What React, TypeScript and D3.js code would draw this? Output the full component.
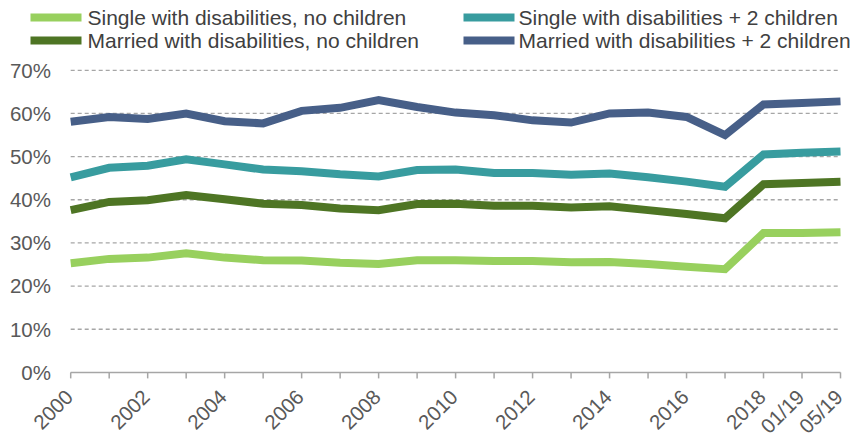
import React from "react";
import * as d3 from "d3";

// Periods along the x axis
const periods: string[] = [
  "2000", "2001", "2002", "2003", "2004", "2005", "2006", "2007", "2008", "2009",
  "2010", "2011", "2012", "2013", "2014", "2015", "2016", "2017", "2018", "01/19", "05/19",
];

// Periods that carry a visible label
const labelledPeriods: string[] = [
  "2000", "2002", "2004", "2006", "2008", "2010", "2012", "2014", "2016", "2018", "01/19", "05/19",
];

const yTicks: number[] = [0, 10, 20, 30, 40, 50, 60, 70];

// Series values (%)
const singleNoChildren: number[] = [
  25.3, 26.3, 26.6, 27.6, 26.6, 26.0, 25.9, 25.4, 25.1, 26.0,
  26.0, 25.8, 25.8, 25.5, 25.6, 25.1, 24.5, 23.9, 32.3, 32.3, 32.5,
];
const marriedNoChildren: number[] = [
  37.6, 39.5, 39.9, 41.1, 40.1, 39.1, 38.8, 38.0, 37.6, 39.0,
  39.1, 38.6, 38.6, 38.2, 38.5, 37.6, 36.7, 35.7, 43.6, 43.9, 44.2,
];
const singleTwoChildren: number[] = [
  45.2, 47.4, 47.9, 49.4, 48.2, 47.0, 46.6, 45.9, 45.4, 46.9,
  47.0, 46.2, 46.2, 45.8, 46.1, 45.2, 44.2, 43.0, 50.5, 50.9, 51.2,
];
const marriedTwoChildren: number[] = [
  58.1, 59.2, 58.7, 60.0, 58.2, 57.7, 60.6, 61.3, 63.1, 61.5,
  60.2, 59.6, 58.4, 57.9, 60.0, 60.2, 59.2, 55.0, 62.1, 62.4, 62.8,
];

const seriesNames: string[] = [
  "Single with disabilities, no children",
  "Married with disabilities, no children",
  "Single with disabilities + 2 children",
  "Married with disabilities + 2 children",
];
const seriesValues: number[][] = [singleNoChildren, marriedNoChildren, singleTwoChildren, marriedTwoChildren];
const seriesColors: string[] = ["#98D05E", "#4E7524", "#389C9F", "#475F88"];

const W = 862;
const H = 437;
const FONT = "'Liberation Sans', Arial, sans-serif";

export default function App() {
  const x = d3.scalePoint<string>().domain(periods).range([70.7, 840.5]);
  const y = d3.scaleLinear().domain([0, 70]).range([372.4, 70.3]);

  const line = d3
    .line<number>()
    .x((_, i) => x(periods[i]) as number)
    .y((v) => y(v));

  // Legend: two columns, two rows
  const legendPos = [
    { sx: 30.5, tx: 87.5, cy: 17.5 },
    { sx: 30.5, tx: 87.5, cy: 40.5 },
    { sx: 463.5, tx: 518.5, cy: 17.5 },
    { sx: 463.5, tx: 518.5, cy: 40.5 },
  ];

  const [x0, x1] = x.range();

  return (
    <svg
      width={W}
      height={H}
      viewBox={`0 0 ${W} ${H}`}
      style={{ position: "absolute", left: 0, top: 0, background: "#fff", fontFamily: FONT }}
    >
      {/* gridlines */}
      {yTicks
        .filter((t) => t > 0)
        .map((t) => (
          <line
            key={`g${t}`}
            x1={x0}
            x2={x1}
            y1={y(t)}
            y2={y(t)}
            stroke="#A6A6A6"
            strokeWidth={1.3}
            strokeDasharray="4,3"
          />
        ))}

      {/* y labels */}
      {yTicks.map((t) => (
        <text
          key={`yl${t}`}
          x={51}
          y={y(t)}
          dy="0.36em"
          textAnchor="end"
          fontSize={20.5}
          fill="#595959"
        >
          {`${t}%`}
        </text>
      ))}

      {/* x axis */}
      <line x1={x0} x2={x1} y1={y(0)} y2={y(0)} stroke="#A6A6A6" strokeWidth={1.5} />
      {periods.map((p) => (
        <line
          key={`t${p}`}
          x1={x(p)}
          x2={x(p)}
          y1={y(0)}
          y2={y(0) + 6}
          stroke="#A6A6A6"
          strokeWidth={1.5}
        />
      ))}
      {labelledPeriods.map((p) => (
        <text
          key={`xl${p}`}
          transform={`translate(${(x(p) as number) + 3.5},${y(0) + 26}) rotate(-45)`}
          textAnchor="end"
          fontSize={20.5}
          fill="#595959"
        >
          {p}
        </text>
      ))}

      {/* series lines */}
      {seriesValues.map((vals, i) => (
        <path
          key={`s${i}`}
          d={line(vals) ?? ""}
          fill="none"
          stroke={seriesColors[i]}
          strokeWidth={8}
          strokeLinejoin="miter"
        />
      ))}

      {/* legend */}
      {seriesNames.map((name, i) => (
        <g key={`lg${i}`}>
          <rect x={legendPos[i].sx} y={legendPos[i].cy - 4} width={51} height={8} fill={seriesColors[i]} />
          <text
            transform={`translate(${legendPos[i].tx},${legendPos[i].cy}) scale(1.025,1)`}
            dy="0.36em"
            fontSize={20.5}
            fill="#404040"
          >
            {name}
          </text>
        </g>
      ))}
    </svg>
  );
}
